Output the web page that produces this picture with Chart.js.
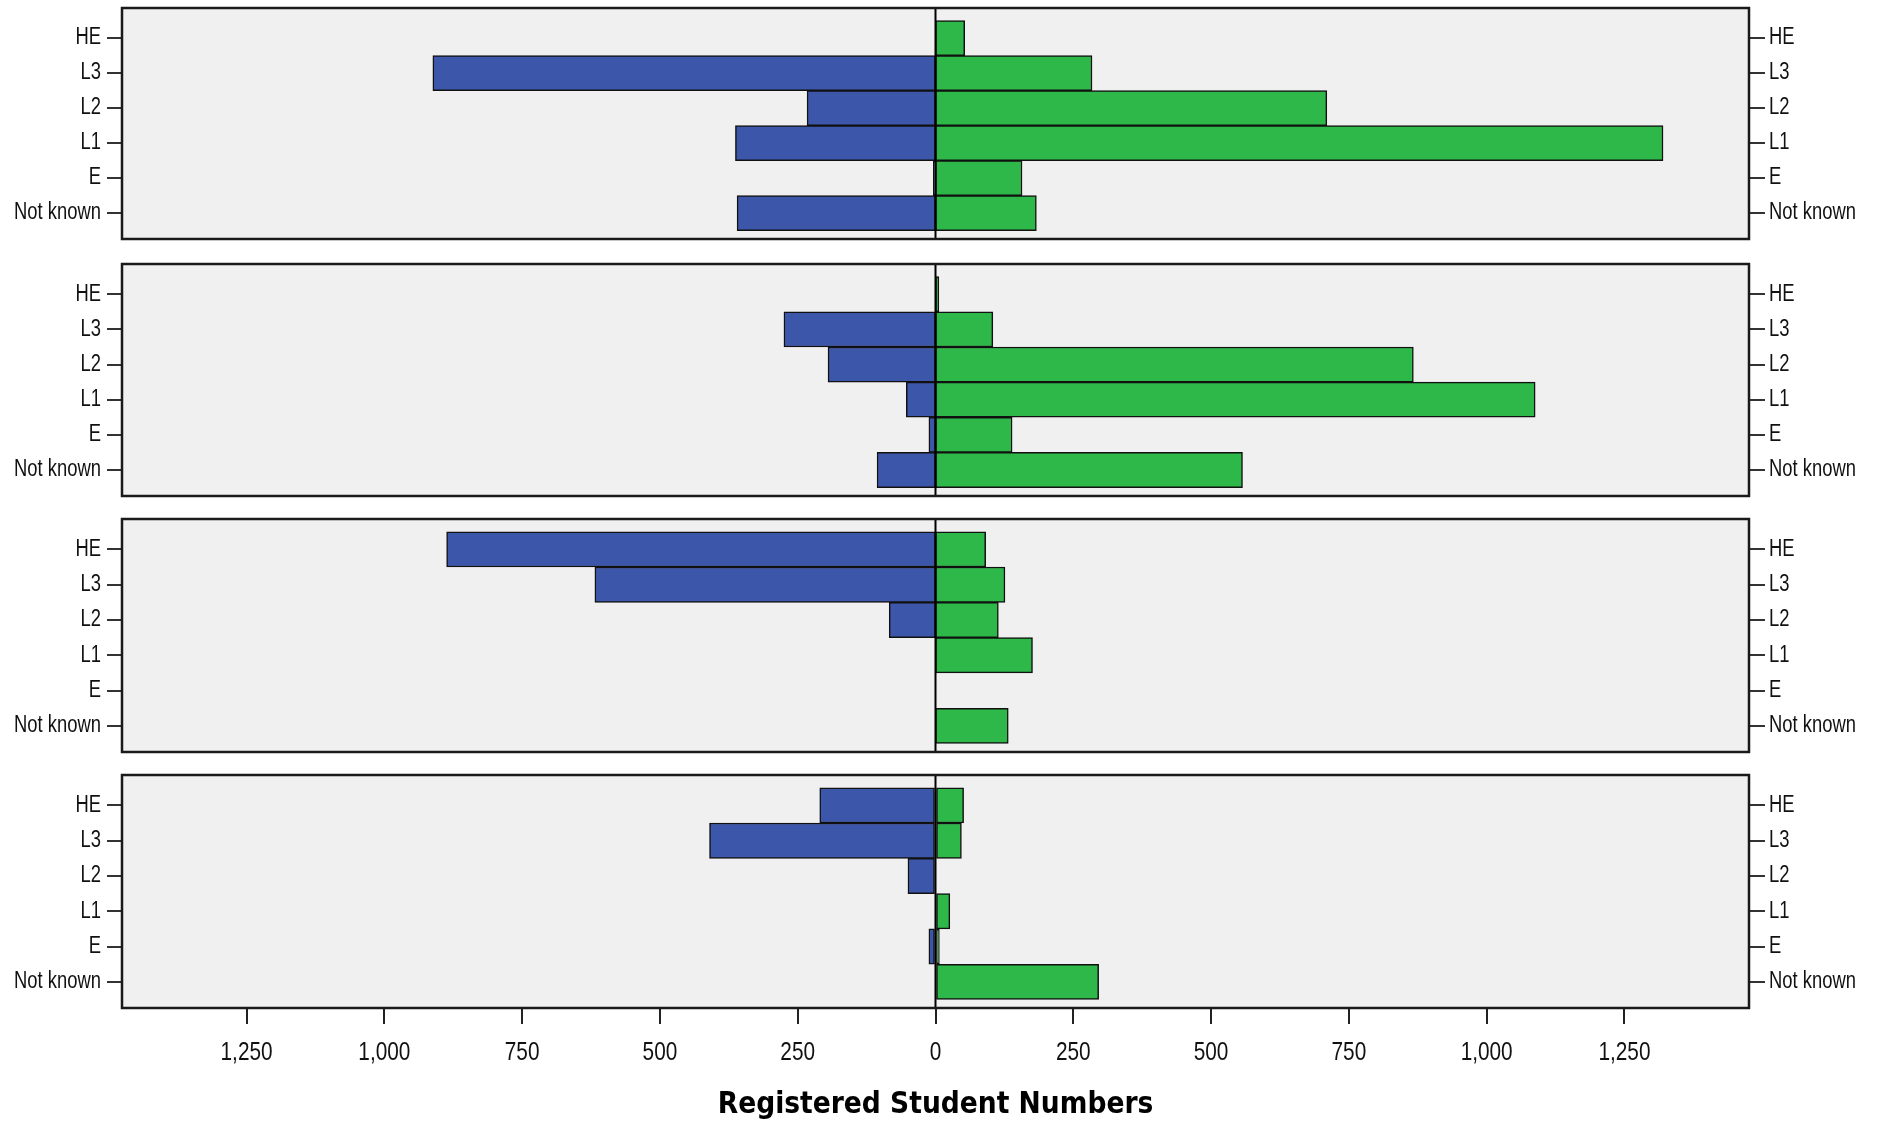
<!DOCTYPE html>
<html>
<head>
<meta charset="utf-8">
<script src="https://cdn.jsdelivr.net/npm/chart.js@4.4.1/dist/chart.umd.min.js"></script>
<style>
  html, body { margin: 0; padding: 0; background: #fff; }
  #wrap { position: relative; width: 1877px; height: 1124px; overflow: hidden; }
  #wrap canvas { position: absolute; left: 0; }
</style>
</head>
<body>
<div id="wrap">
  <canvas id="p1"></canvas>
  <canvas id="p2"></canvas>
  <canvas id="p3"></canvas>
  <canvas id="p4"></canvas>
</div>
<script>
// ── DATA ──
const categories = ["HE", "L3", "L2", "L1", "E", "Not known"];
const xTicks = [-1250, -1000, -750, -500, -250, 0, 250, 500, 750, 1000, 1250];
const xTitle = "Registered Student Numbers";

// blue = left side, green = right side, one pair per panel (top to bottom)
const blue1  = [0, 912, 233, 363, 4, 360];
const green1 = [53, 284, 710, 1320, 157, 183];
const blue2  = [0, 275, 195, 53, 12, 106];
const green2 = [6, 104, 867, 1088, 139, 557];
const blue3  = [887, 618, 84, 0, 0, 0];
const green3 = [91, 126, 114, 176, 0, 132];
const blue4  = [210, 410, 50, 0, 12, 0];
const green4 = [51, 47, 0, 26, 7, 296];

// ── LAYOUT ──
const W = 1877, H = 1124;
const AREA_LEFT = 122, AREA_RIGHT = 1749;
const PAD = 24;
const NARROW = 0.8;   // labels are drawn in a narrow face
const BLUE = "#3c56aa", GREEN = "#2eb84a";
const LABEL_FONT = { family: "'Liberation Sans', Arial, sans-serif", size: 23 };
const TICK_FONT  = { family: "'Liberation Sans', Arial, sans-serif", size: 26 };

const panels = [
  { id: "p1", blue: blue1, green: green1, top: 8,   bottom: 239 },
  { id: "p2", blue: blue2, green: green2, top: 264, bottom: 496 },
  { id: "p3", blue: blue3, green: green3, top: 519, bottom: 752 },
  { id: "p4", blue: blue4, green: green4, top: 775, bottom: 1008, axis: true }
];

// ── FRAME : grey background, border, zero line ──
const panelFrame = {
  id: "panelFrame",
  beforeDraw(chart) {
    const { ctx, chartArea: a } = chart;
    ctx.save();
    ctx.fillStyle = "#f0f0f0";
    ctx.fillRect(a.left, a.top, a.right - a.left, a.bottom - a.top);
    ctx.restore();
  },
  afterDatasetsDraw(chart) {
    const { ctx, chartArea: a, scales } = chart;
    const x0 = scales.x.getPixelForValue(0);
    ctx.save();
    ctx.strokeStyle = "#000";
    ctx.lineWidth = 2;
    ctx.beginPath();
    ctx.moveTo(x0, a.top);
    ctx.lineTo(x0, a.bottom);
    ctx.stroke();
    ctx.strokeStyle = "#1a1a1a";
    ctx.lineWidth = 2.5;
    ctx.strokeRect(a.left, a.top, a.right - a.left, a.bottom - a.top);
    ctx.restore();
  }
};

// squeeze regular (non bold) text horizontally, like Arial Narrow
function narrowText(ctx) {
  const rawFill = ctx.fillText.bind(ctx);
  ctx.fillText = function (text, x, y, maxWidth) {
    if (/bold/.test(ctx.font)) return rawFill(text, x, y, maxWidth);
    const w = ctx.measureText(text).width * NARROW;
    return rawFill(text, x, y, maxWidth === undefined ? w : Math.min(w, maxWidth));
  };
}

function yAxis(position, tickLen, pad) {
  return {
    type: "linear",
    position: position,
    reverse: true,
    min: -0.86,
    max: 5.74,
    offset: false,
    stacked: true,
    afterBuildTicks: s => { s.ticks = categories.map((c, i) => ({ value: i })); },
    afterFit: s => { s.width = position === "left" ? AREA_LEFT : W - AREA_RIGHT; },
    grid: { offset: false, drawOnChartArea: false, drawTicks: true, tickLength: tickLen, color: "#333", lineWidth: 2 },
    border: { display: false },
    ticks: { padding: pad, autoSkip: false, color: "#111", font: LABEL_FONT,
             callback: v => categories[v] ?? "" }
  };
}

function makePanel(p) {
  const canvas = document.getElementById(p.id);
  const canvasTop = p.top - PAD;
  const height = p.axis ? H - canvasTop : (p.bottom - p.top) + 2 * PAD;
  canvas.width = W;
  canvas.height = height;
  canvas.style.top = canvasTop + "px";
  const ctx = canvas.getContext("2d");
  narrowText(ctx);

  const bar = (vals, sign, color) => ({
    data: vals.map((v, i) => ({ x: v ? sign * v : null, y: i })),
    backgroundColor: color,
    borderColor: "#111",
    borderWidth: 1.5,
    borderSkipped: false,
    barPercentage: 1,
    categoryPercentage: 1,
    yAxisID: "y"
  });

  new Chart(ctx, {
    type: "bar",
    data: { datasets: [bar(p.blue, -1, BLUE), bar(p.green, 1, GREEN)] },
    options: {
      indexAxis: "y",
      responsive: false,
      animation: false,
      devicePixelRatio: 1,
      layout: { padding: { left: 0, right: 0, top: PAD, bottom: p.axis ? 0 : PAD } },
      plugins: { legend: { display: false }, tooltip: { enabled: false } },
      scales: {
        x: {
          type: "linear",
          min: -1476,
          max: 1476,
          stacked: true,
          display: !!p.axis,
          afterBuildTicks: s => { s.ticks = xTicks.map(v => ({ value: v })); },
          afterFit: s => { if (p.axis) s.height = height - PAD - (p.bottom - p.top); },
          grid: { drawOnChartArea: false, drawTicks: true, tickLength: 16, color: "#222", lineWidth: 2 },
          border: { display: false },
          ticks: { padding: 13, autoSkip: false, maxRotation: 0, color: "#111", font: TICK_FONT,
                   callback: v => Math.abs(v).toLocaleString("en-US") },
          title: { display: true, text: xTitle, color: "#000",
                   font: { family: "'DejaVu Sans Condensed', 'DejaVu Sans', sans-serif", weight: "bold", size: 29.5, lineHeight: 1.1 },
                   padding: { top: 0, bottom: 2 } }
        },
        y: yAxis("left", 15, 6),
        y2: yAxis("right", 16, 4)
      }
    },
    plugins: [panelFrame]
  });
}

panels.forEach(makePanel);
</script>
</body>
</html>
